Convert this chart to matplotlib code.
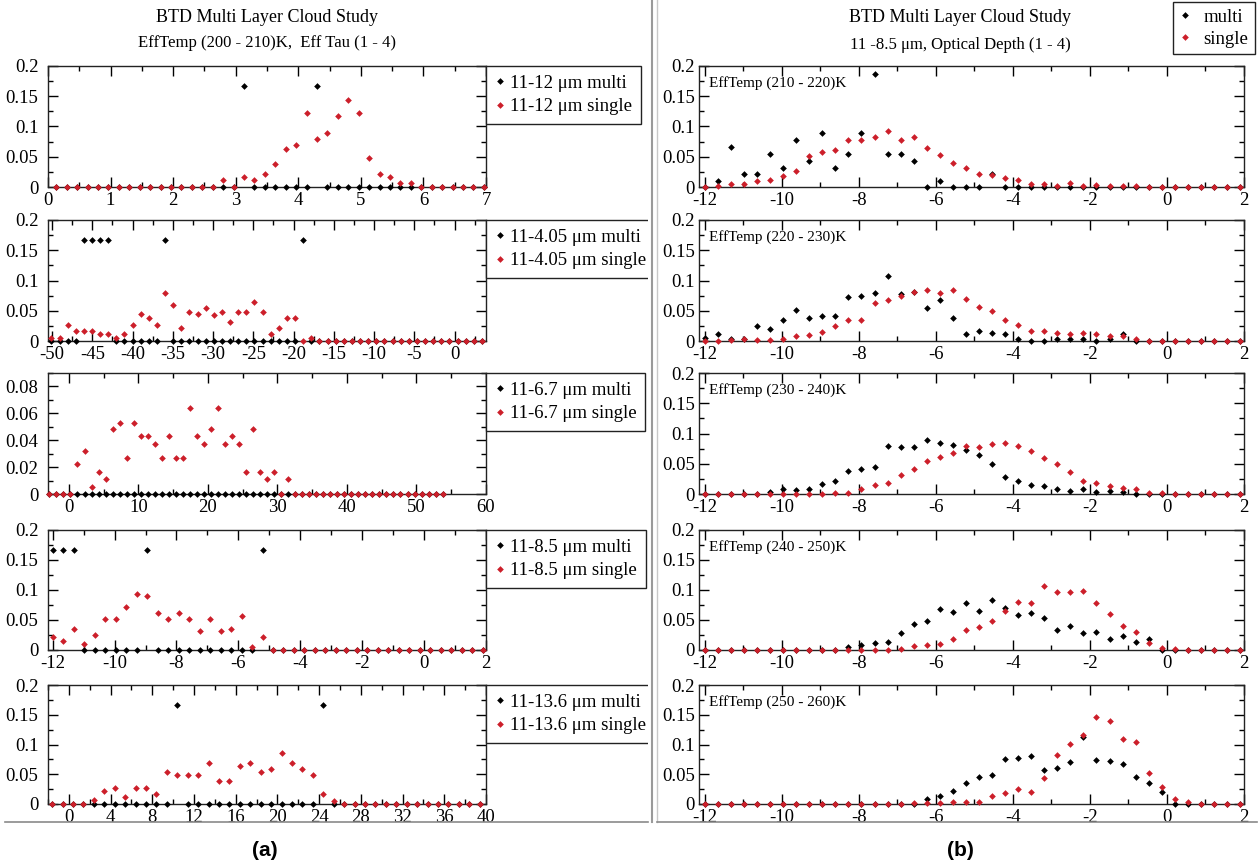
import numpy as np
import matplotlib.pyplot as plt
from matplotlib.ticker import MultipleLocator, FuncFormatter
from matplotlib.lines import Line2D
from matplotlib.transforms import Bbox, TransformedBbox

plt.rcParams['font.family'] = ['Liberation Serif', 'DejaVu Serif']
plt.rcParams['axes.unicode_minus'] = False

W, H = 1258, 867
RED = '#cc1f2a'

# ---- left column (a): one BTD per row, first bin centre, bin width ----
l1_x0, l1_dx = 0.133, 1 / 6
l1_multi = [0] * 18 + [0.1667] + [0] * 6 + [0.1667] + [0] * 16
l1_single = [0] * 16 + [0.011, 0, 0.0165, 0.011, 0.0215, 0.0375, 0.063, 0.069, 0.123, 0.079,
                        0.090, 0.117, 0.143, 0.123, 0.0485, 0.022, 0.0165, 0.006, 0.006] + [0] * 7

l2_x0, l2_dx = -50.08, 1.009
l2_multi = [0] * 4 + [0.1667] * 4 + [0] * 6 + [0.1667] + [0] * 16 + [0.1667] + [0] * 22
l2_single = [0.005, 0.005, 0.027, 0.016, 0.016, 0.016, 0.011, 0.011, 0.005, 0.011,
             0.027, 0.044, 0.038, 0.027, 0.079, 0.060, 0.022, 0.048, 0.044, 0.054,
             0.043, 0.048, 0.032, 0.048, 0.048, 0.064, 0.048, 0.011, 0.022, 0.038,
             0.038, 0, 0.005] + [0] * 21

l3_x0, l3_dx = -2.8, 1.01
l3_multi = [0] * 57
l3_single = [0] * 4 + [0.022, 0.032, 0.005, 0.016, 0.011, 0.048, 0.053, 0.027, 0.053, 0.043,
                       0.043, 0.037, 0.027, 0.043, 0.027, 0.027, 0.064, 0.043, 0.037, 0.048,
                       0.064, 0.037, 0.043, 0.037, 0.016, 0.048, 0.016, 0.011, 0.016, 0,
                       0.011] + [0] * 22

l4_x0, l4_dx = -12.0, 0.339
l4_multi = [0.1667] * 3 + [0] * 6 + [0.1667] + [0] * 10 + [0.1667] + [0] * 21
l4_single = [0.021, 0.0155, 0.035, 0.010, 0.0255, 0.051, 0.051, 0.072, 0.094, 0.090,
             0.062, 0.051, 0.062, 0.051, 0.032, 0.051, 0.032, 0.035, 0.057, 0.0045,
             0.021] + [0] * 21

l5_x0, l5_dx = -1.6, 1.0
l5_multi = [0] * 12 + [0.1667] + [0] * 13 + [0.1667] + [0] * 15
l5_single = [0] * 4 + [0.006, 0.022, 0.027, 0.011, 0.027, 0.027, 0.016, 0.054, 0.048, 0.048,
                       0.048, 0.069, 0.038, 0.038, 0.064, 0.069, 0.054, 0.058, 0.085, 0.069,
                       0.058, 0.048, 0.016, 0.005] + [0] * 14

left_labels = ['11-12 \u03bcm', '11-4.05 \u03bcm', '11-6.7 \u03bcm', '11-8.5 \u03bcm', '11-13.6 \u03bcm']
left_xlim = [(0, 7), (-50.5, 3.9), (-3, 60), (-12.15, 2), (-2, 40)]
left_xmajor = [1, 5, 10, 2, 4]
left_ytop = [0.2, 0.2, 0.09, 0.2, 0.2]
left_ymajor = [0.05, 0.05, 0.02, 0.05, 0.05]

# ---- right column (b): 11-8.5 um for five EffTemp ranges ----
r_x0, r_dx = -12.0, 0.339
r1_multi = [0, 0.0106, 0.066, 0.022, 0.022, 0.054, 0.032, 0.078, 0.043, 0.089,
            0.032, 0.054, 0.089, 0.187, 0.054, 0.054, 0.043, 0, 0.0106, 0,
            0, 0, 0.021] + [0] * 19
r1_single = [0, 0.002, 0.0056, 0.0056, 0.0094, 0.011, 0.018, 0.027, 0.051, 0.058,
             0.0605, 0.077, 0.077, 0.083, 0.093, 0.077, 0.083, 0.064, 0.053, 0.039,
             0.031, 0.022, 0.020, 0.015, 0.011, 0.0056, 0.0056, 0.002, 0.0067, 0.002,
             0.004, 0.002, 0.001, 0.001] + [0] * 8
r2_multi = [0.005, 0.011, 0.004, 0.003, 0.024, 0.020, 0.034, 0.052, 0.038, 0.042,
            0.042, 0.073, 0.074, 0.080, 0.108, 0.077, 0.081, 0.055, 0.068, 0.038,
            0.011, 0.016, 0.014, 0.011, 0.003, 0, 0, 0.004, 0.003, 0.003,
            0, 0.004, 0.011] + [0] * 9
r2_single = [0, 0, 0.002, 0.003, 0.001, 0.001, 0.003, 0.008, 0.010, 0.015,
             0.025, 0.034, 0.034, 0.062, 0.068, 0.075, 0.081, 0.085, 0.080, 0.085,
             0.069, 0.056, 0.049, 0.034, 0.026, 0.016, 0.017, 0.013, 0.011, 0.013,
             0.011, 0.009, 0.009, 0.003] + [0] * 8
r3_multi = [0] * 5 + [0.003, 0.008, 0.007, 0.008, 0.016, 0.022, 0.038, 0.042, 0.045, 0.079,
                      0.078, 0.078, 0.089, 0.085, 0.081, 0.072, 0.065, 0.049, 0.028, 0.022,
                      0.015, 0.014, 0.009, 0.005, 0.008, 0.004, 0.005, 0.004] + [0] * 9
r3_single = [0] * 10 + [0.001, 0.002, 0.009, 0.015, 0.018, 0.031, 0.041, 0.054, 0.061, 0.068,
                        0.079, 0.077, 0.083, 0.085, 0.079, 0.071, 0.060, 0.049, 0.037, 0.022,
                        0.019, 0.014, 0.010, 0.008, 0.002, 0.002] + [0] * 6
r4_multi = [0] * 11 + [0.005, 0.009, 0.012, 0.014, 0.028, 0.044, 0.048, 0.069, 0.063, 0.079,
                       0.065, 0.083, 0.070, 0.059, 0.062, 0.054, 0.034, 0.040, 0.028, 0.030,
                       0.019, 0.023, 0.013, 0.019] + [0] * 7
r4_single = [0] * 15 + [0.002, 0.006, 0.009, 0.010, 0.019, 0.034, 0.038, 0.049, 0.065, 0.080,
                        0.079, 0.106, 0.097, 0.097, 0.099, 0.078, 0.060, 0.040, 0.030, 0.011,
                        0.004, 0.002] + [0] * 5
r5_multi = [0] * 17 + [0.008, 0.013, 0.022, 0.035, 0.046, 0.048, 0.076, 0.077, 0.081, 0.057,
                       0.061, 0.071, 0.113, 0.074, 0.073, 0.067, 0.046, 0.036, 0.020] + [0] * 6
r5_single = [0] * 16 + [0.001, 0.001, 0.002, 0.003, 0.004, 0.004, 0.013, 0.018, 0.025, 0.021,
                        0.043, 0.083, 0.101, 0.116, 0.146, 0.139, 0.110, 0.105, 0.052, 0.029,
                        0.008, 0.003] + [0] * 4
right_labels = ['EffTemp (210 - 220)K', 'EffTemp (220 - 230)K', 'EffTemp (230 - 240)K',
                'EffTemp (240 - 250)K', 'EffTemp (250 - 260)K']

left_data = [(l1_x0, l1_dx, l1_multi, l1_single), (l2_x0, l2_dx, l2_multi, l2_single),
             (l3_x0, l3_dx, l3_multi, l3_single), (l4_x0, l4_dx, l4_multi, l4_single),
             (l5_x0, l5_dx, l5_multi, l5_single)]
right_data = [(r1_multi, r1_single), (r2_multi, r2_single), (r3_multi, r3_single),
              (r4_multi, r4_single), (r5_multi, r5_single)]

# row extents in pixels (top, bottom of the plot frame)
rows = [(66, 187), (220, 341), (373, 494), (530, 650), (685, 804)]


def style_axes(ax, xlim, xmajor, ytop, ymajor, ypad):
    ax.set_xlim(*xlim)
    ax.set_ylim(0, ytop)
    ax.xaxis.set_major_locator(MultipleLocator(xmajor))
    ax.xaxis.set_minor_locator(MultipleLocator(xmajor / 2))
    ax.yaxis.set_major_locator(MultipleLocator(ymajor))
    ax.yaxis.set_minor_locator(MultipleLocator(ymajor / 2))
    ax.xaxis.set_major_formatter(FuncFormatter(lambda v, p: '%g' % round(v, 6)))
    ax.yaxis.set_major_formatter(FuncFormatter(lambda v, p: '%g' % round(v, 6)))
    ax.tick_params(which='both', direction='in', top=True, right=True, width=1,
                   labelsize=13.5, pad=3.5)
    ax.tick_params(axis='y', pad=ypad)
    ax.tick_params(which='major', length=7)
    ax.tick_params(which='minor', length=3.5)
    for s in ax.spines.values():
        s.set_linewidth(1.0)
        s.set_color('#222222')


def scatter(ax, x0, dx, multi, single):
    xm = x0 + dx * np.arange(len(multi))
    xs = x0 + dx * np.arange(len(single))
    hm, = ax.plot(xm, multi, 'D', color='black', ms=3.4, mew=0, clip_on=False, zorder=3)
    hs, = ax.plot(xs, single, 'D', color=RED, ms=3.4, mew=0, clip_on=False, zorder=4)
    return hm, hs


fig = plt.figure(figsize=(W / 100, H / 100), dpi=100)

lx0, lx1 = 48, 486
rx0, rx1 = 699, 1244

# the left screenshot window ends at x = 648 px and cuts the wide legends
left_window = TransformedBbox(Bbox([[0, 0], [648 / W, 1]]), fig.transFigure)

for i, (t, b) in enumerate(rows):
    ax = fig.add_axes([lx0 / W, 1 - b / H, (lx1 - lx0) / W, (b - t) / H])
    x0, dx, m, s = left_data[i]
    hm, hs = scatter(ax, x0, dx, m, s)
    style_axes(ax, left_xlim[i], left_xmajor[i], left_ytop[i], left_ymajor[i], 7)
    leg = ax.legend([hm, hs], [left_labels[i] + ' multi', left_labels[i] + ' single'],
                    loc='upper left', bbox_to_anchor=(1, 1), borderaxespad=0, fancybox=False,
                    edgecolor='#222222', framealpha=1, fontsize=13.5, handlelength=0.6,
                    handletextpad=0.25, borderpad=0.45, labelspacing=0.35)
    for a in leg.findobj():
        a.set_clip_box(left_window)

    ax = fig.add_axes([rx0 / W, 1 - b / H, (rx1 - rx0) / W, (b - t) / H])
    m, s = right_data[i]
    rh = scatter(ax, r_x0, r_dx, m, s)
    style_axes(ax, (-12.15, 2), 2, 0.2, 0.05, 3)
    ax.text(0.018, 0.86, right_labels[i], transform=ax.transAxes, fontsize=11,
            ha='left', va='center')

fig.legend(list(rh), ['multi', 'single'], loc='upper right',
           bbox_to_anchor=(1255 / W, 1 - 2 / H), borderaxespad=0, fancybox=False,
           edgecolor='#222222', framealpha=1, fontsize=13.5, handlelength=0.6,
           handletextpad=0.7, borderpad=0.35, labelspacing=0.25)

fig.text((lx0 + lx1) / 2 / W, 1 - 17 / H, 'BTD Multi Layer Cloud Study', ha='center',
         va='center', fontsize=13)
fig.text((lx0 + lx1) / 2 / W, 1 - 43 / H, 'EffTemp (200 - 210)K,  Eff Tau (1 - 4)',
         ha='center', va='center', fontsize=12)
fig.text(960 / W, 1 - 17 / H, 'BTD Multi Layer Cloud Study', ha='center', va='center',
         fontsize=13)
fig.text(960 / W, 1 - 45 / H, '11 -8.5 \u03bcm, Optical Depth (1 - 4)', ha='center',
         va='center', fontsize=12)

# window borders of the two screenshots
fig.add_artist(Line2D([652 / W, 652 / W], [1, 1 - 822 / H], color='#9a9a9a', lw=1.5, zorder=11))
fig.add_artist(Line2D([657 / W, 657 / W], [1, 1 - 822 / H], color='#c8c8c8', lw=1.0, zorder=11))
fig.add_artist(Line2D([5 / W, 648 / W], [1 - 822 / H, 1 - 822 / H], color='#8a8a8a', lw=1.2, zorder=11))
fig.add_artist(Line2D([657 / W, 1 - 1 / W], [1 - 822 / H, 1 - 822 / H], color='#8a8a8a', lw=1.2, zorder=11))

fig.text(265 / W, 1 - 850 / H, '(a)', ha='center', va='center', fontsize=15,
         fontweight='bold', family='Liberation Sans')
fig.text(960 / W, 1 - 850 / H, '(b)', ha='center', va='center', fontsize=15,
         fontweight='bold', family='Liberation Sans')

fig.savefig('out.png', dpi=100)
